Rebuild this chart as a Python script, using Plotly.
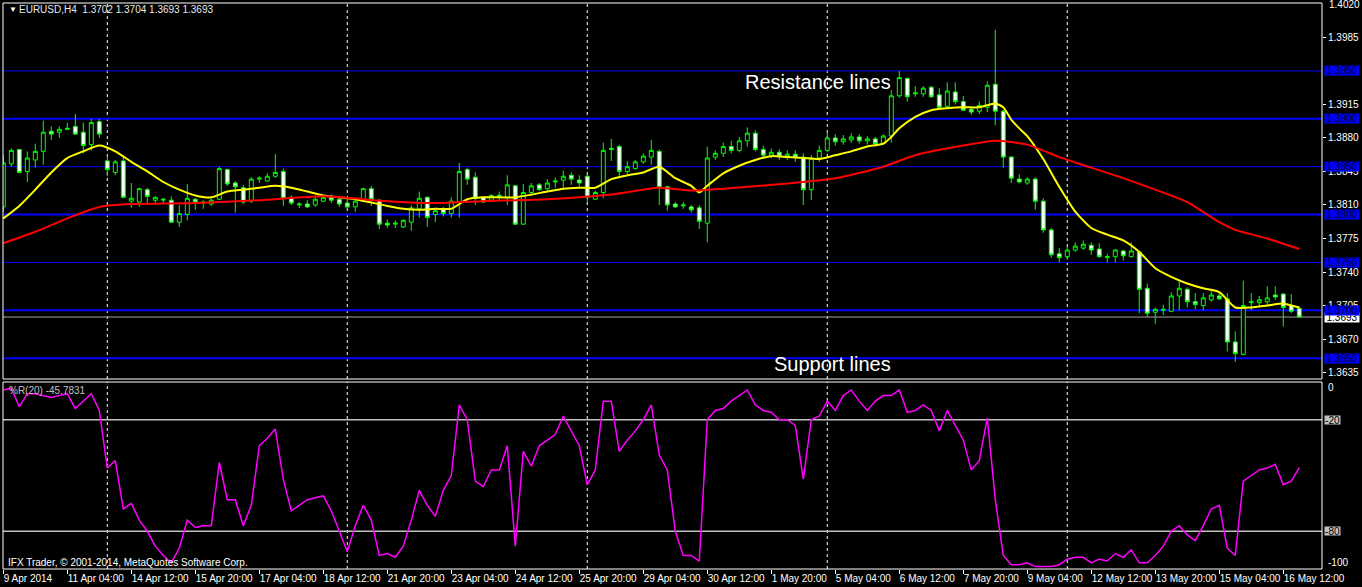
import plotly.graph_objects as go

# ---------------- data ----------------
bars = list(range(163))

opens = [1.3808,1.3853,1.3868,1.3845,1.3857,1.3866,1.3887,1.3886,1.3889,1.3892,1.3886,1.3873,1.3897,1.3856,1.3844,1.3856,1.3814,1.3813,1.3826,1.3815,
1.3815,1.3815,1.3792,1.3800,1.3816,1.3812,1.3811,1.3816,1.3847,1.3833,1.3828,1.3814,1.3837,1.3835,1.3840,1.3845,1.3818,1.3810,1.3811,1.3810,
1.3814,1.3818,1.3816,1.3812,1.3808,1.3814,1.3827,1.3815,1.3791,1.3790,1.3787,1.3792,1.3806,1.3818,1.3800,1.3806,1.3801,1.3813,1.3847,1.3839,
1.3818,1.3815,1.3819,1.3818,1.3830,1.3790,1.3823,1.3831,1.3827,1.3834,1.3836,1.3841,1.3836,1.3840,1.3816,1.3823,1.3868,1.3871,1.3845,1.3848,
1.3855,1.3860,1.3866,1.3829,1.3811,1.3809,1.3808,1.3807,1.3791,1.3860,1.3864,1.3871,1.3867,1.3877,1.3885,1.3868,1.3862,1.3865,1.3861,1.3863,
1.3860,1.3826,1.3859,1.3867,1.3880,1.3876,1.3878,1.3881,1.3877,1.3879,1.3874,1.3882,1.3924,1.3942,1.3926,1.3926,1.3933,1.3925,1.3913,1.3928,
1.3918,1.3910,1.3908,1.3912,1.3936,1.3908,1.3860,1.3837,1.3833,1.3837,1.3814,1.3784,1.3759,1.3756,1.3763,1.3765,1.3768,1.3764,1.3755,1.3756,
1.3762,1.3756,1.3761,1.3723,1.3698,1.3700,1.3699,1.3715,1.3722,1.3709,1.3705,1.3711,1.3715,1.3712,1.3667,1.3654,1.3708,1.3708,1.3709,1.3716,
1.3717,1.3705,1.3702]

highs = [1.3862,1.3869,1.3868,1.3866,1.3874,1.3898,1.3892,1.3892,1.3896,1.3905,1.3896,1.3900,1.3900,1.3860,1.3857,1.3862,1.3833,1.3828,1.3828,1.3819,
1.3817,1.3819,1.3810,1.3832,1.3817,1.3815,1.3817,1.3850,1.3848,1.3835,1.3831,1.3839,1.3840,1.3843,1.3863,1.3848,1.3820,1.3813,1.3815,1.3820,
1.3819,1.3821,1.3818,1.3816,1.3816,1.3828,1.3830,1.3816,1.3795,1.3794,1.3795,1.3810,1.3824,1.3819,1.3807,1.3808,1.3818,1.3854,1.3849,1.3844,
1.3819,1.3821,1.3824,1.3841,1.3831,1.3832,1.3833,1.3833,1.3837,1.3839,1.3846,1.3844,1.3841,1.3843,1.3825,1.3875,1.3879,1.3873,1.3856,1.3857,
1.3864,1.3878,1.3868,1.3830,1.3813,1.3813,1.3810,1.3810,1.3871,1.3867,1.3875,1.3877,1.3881,1.3891,1.3888,1.3872,1.3869,1.3868,1.3867,1.3867,
1.3864,1.3862,1.3872,1.3886,1.3884,1.3883,1.3885,1.3884,1.3882,1.3881,1.3884,1.3930,1.3950,1.3943,1.3934,1.3934,1.3934,1.3932,1.3938,1.3938,
1.3924,1.3912,1.3918,1.3939,1.3993,1.3909,1.3861,1.3842,1.3839,1.3839,1.3817,1.3786,1.3765,1.3767,1.3771,1.3773,1.3771,1.3770,1.3759,1.3764,
1.3763,1.3771,1.3762,1.3728,1.3703,1.3706,1.3719,1.3732,1.3724,1.3718,1.3718,1.3720,1.3719,1.3718,1.3678,1.3731,1.3718,1.3715,1.3725,1.3725,
1.3718,1.3717,1.3704]

lows = [1.3803,1.3850,1.3843,1.3834,1.3849,1.3852,1.3878,1.3880,1.3888,1.3883,1.3864,1.3867,1.3880,1.3840,1.3841,1.3817,1.3807,1.3808,1.3812,1.3812,
1.3811,1.3791,1.3787,1.3794,1.3805,1.3806,1.3809,1.3815,1.3830,1.3802,1.3811,1.3812,1.3833,1.3834,1.3838,1.3809,1.3810,1.3807,1.3807,1.3808,
1.3813,1.3812,1.3808,1.3806,1.3803,1.3813,1.3809,1.3785,1.3786,1.3786,1.3786,1.3783,1.3797,1.3787,1.3792,1.3798,1.3797,1.3797,1.3831,1.3810,
1.3812,1.3813,1.3815,1.3810,1.3789,1.3789,1.3820,1.3825,1.3825,1.3828,1.3828,1.3831,1.3829,1.3812,1.3815,1.3817,1.3856,1.3838,1.3842,1.3847,
1.3853,1.3852,1.3810,1.3804,1.3807,1.3806,1.3802,1.3785,1.3771,1.3857,1.3860,1.3864,1.3865,1.3871,1.3866,1.3859,1.3859,1.3857,1.3857,1.3855,
1.3810,1.3815,1.3855,1.3865,1.3872,1.3873,1.3875,1.3874,1.3873,1.3871,1.3873,1.3875,1.3922,1.3918,1.3923,1.3923,1.3922,1.3911,1.3911,1.3915,
1.3908,1.3904,1.3905,1.3907,1.3893,1.3849,1.3833,1.3833,1.3831,1.3805,1.3781,1.3755,1.3750,1.3753,1.3761,1.3763,1.3758,1.3755,1.3750,1.3750,
1.3752,1.3755,1.3697,1.3693,1.3686,1.3695,1.3698,1.3700,1.3703,1.3701,1.3700,1.3709,1.3711,1.3657,1.3646,1.3653,1.3700,1.3703,1.3706,1.3711,
1.3683,1.3697,1.3693]

closes = [1.3854,1.3867,1.3844,1.3859,1.3866,1.3886,1.3884,1.3889,1.3890,1.3884,1.3872,1.3896,1.3884,1.3847,1.3855,1.3818,1.3817,1.3827,1.3819,1.3818,
1.3816,1.3792,1.3801,1.3817,1.3813,1.3813,1.3815,1.3848,1.3832,1.3829,1.3813,1.3837,1.3838,1.3840,1.3844,1.3817,1.3812,1.3811,1.3808,1.3816,
1.3818,1.3815,1.3811,1.3808,1.3814,1.3827,1.3816,1.3790,1.3789,1.3791,1.3794,1.3807,1.3817,1.3797,1.3804,1.3801,1.3814,1.3845,1.3837,1.3817,
1.3813,1.3820,1.3820,1.3831,1.3790,1.3823,1.3830,1.3826,1.3833,1.3835,1.3840,1.3837,1.3833,1.3818,1.3823,1.3867,1.3869,1.3845,1.3850,1.3855,
1.3861,1.3867,1.3828,1.3810,1.3808,1.3810,1.3805,1.3793,1.3859,1.3864,1.3871,1.3867,1.3877,1.3885,1.3868,1.3862,1.3865,1.3861,1.3863,1.3860,
1.3826,1.3859,1.3867,1.3880,1.3876,1.3879,1.3881,1.3877,1.3879,1.3874,1.3882,1.3924,1.3943,1.3923,1.3927,1.3932,1.3923,1.3912,1.3929,1.3918,
1.3909,1.3907,1.3914,1.3935,1.3908,1.3860,1.3838,1.3834,1.3837,1.3814,1.3784,1.3758,1.3755,1.3763,1.3767,1.3769,1.3763,1.3756,1.3756,1.3763,
1.3757,1.3762,1.3722,1.3697,1.3701,1.3701,1.3715,1.3723,1.3709,1.3706,1.3713,1.3716,1.3712,1.3667,1.3655,1.3705,1.3709,1.3711,1.3713,1.3714,
1.3703,1.3699,1.3693]

# moving averages (read at selected bars)
ma_fast_bars = [0,2,4,6,8,10,12,14,16,18,20,22,24,26,28,30,32,34,36,38,40,44,48,50,52,54,56,57,58,60,64,68,70,72,74,76,78,80,82,84,86,87,88,90,92,94,96,
                98,100,102,104,106,108,110,111,112,114,116,118,120,122,124,125,126,127,128,130,132,134,136,138,140,142,144,146,148,150,152,154,156,158,160,162]
ma_fast = [1.3796,1.3809,1.3826,1.3844,1.3859,1.3866,1.3872,1.3866,1.3855,1.3845,1.3834,1.3826,1.3820,1.3818,1.3824,1.3826,1.3828,1.3830,1.3828,1.3824,
1.3820,1.3816,1.3809,1.3806,1.3805,1.3806,1.3806,1.3811,1.3816,1.3818,1.3818,1.3824,1.3827,1.3828,1.3828,1.3837,1.3841,1.3844,1.3850,1.3838,1.3830,
1.3823,1.3830,1.3843,1.3851,1.3857,1.3861,1.3860,1.3859,1.3858,1.3862,1.3866,1.3871,1.3874,1.3881,1.3890,1.3902,1.3909,1.3911,1.3912,1.3912,1.3916,
1.3912,1.3899,1.3890,1.3882,1.3858,1.3829,1.3803,1.3786,1.3779,1.3773,1.3761,1.3744,1.3735,1.3728,1.3723,1.3719,1.3703,1.3703,1.3705,1.3707,1.3703]
ma_slow_bars = [0,4,8,12,16,24,32,40,48,54,60,68,76,82,86,90,96,104,110,114,120,124,128,132,136,140,144,148,152,154,158,162]
ma_slow = [1.3770,1.3782,1.3796,1.3808,1.3811,1.3812,1.3815,1.3819,1.3814,1.3812,1.3814,1.3816,1.3821,1.3828,1.3825,1.3827,1.3831,1.3838,1.3850,1.3862,
1.3872,1.3877,1.3873,1.3860,1.3849,1.3838,1.3826,1.3813,1.3792,1.3784,1.3775,1.3764]

wpr = [-4,-3,-13,-6,-6,-7,-8,-7,-6,-14,-10,-6,-15,-46,-42,-68,-65,-74,-80,-88,
-93,-97,-89,-74,-78,-77,-77,-43,-63,-63,-77,-66,-34,-30,-25,-52,-69,-66,-63,-62,
-61,-69,-80,-91,-77,-66,-74,-93,-92,-94,-88,-74,-58,-66,-72,-58,-50,-12,-20,-53,
-56,-47,-47,-34,-88,-37,-45,-34,-31,-28,-18,-26,-34,-55,-47,-10,-10,-37,-31,-26,
-20,-12,-39,-47,-80,-93,-93,-96,-20,-15,-14,-10,-7,-4,-12,-15,-16,-20,-20,-23,
-52,-20,-18,-10,-15,-7,-4,-10,-15,-10,-7,-7,-4,-16,-15,-12,-15,-26,-15,-23,
-31,-47,-42,-19,-63,-93,-98,-98,-97,-99,-99,-99,-98,-95,-94,-94,-97,-95,-96,-92,
-94,-90,-97,-97,-93,-88,-80,-77,-82,-85,-77,-68,-66,-89,-93,-53,-50,-47,-46,-44,
-55,-53,-45.7831]

tick_bars = list(range(0, 161, 8))
tick_labels = ["9 Apr 2014","11 Apr 04:00","14 Apr 12:00","15 Apr 20:00","17 Apr 04:00","18 Apr 12:00",
               "21 Apr 20:00","23 Apr 04:00","24 Apr 12:00","25 Apr 20:00","29 Apr 04:00","30 Apr 12:00",
               "1 May 20:00","5 May 04:00","6 May 12:00","7 May 20:00","9 May 04:00","12 May 12:00",
               "13 May 20:00","15 May 04:00","16 May 12:00"]
price_ticks = [1.4020,1.3985,1.3915,1.3880,1.3845,1.3810,1.3775,1.3740,1.3705,1.3670,1.3635]
level_prices = [1.3950,1.3900,1.3850,1.3800,1.3750,1.3700,1.3650]
level_widths = [1,2,1,2,1,2,2]
separator_bars = [13,43,73,103,133]
bid_price = 1.3693
wpr_levels = [-20,-80]

for arr in (opens, highs, lows, closes, wpr):
    assert len(arr) == len(bars)
assert len(ma_fast) == len(ma_fast_bars) and len(ma_slow) == len(ma_slow_bars)

# ---------------- figure ----------------
W, H = 1362, 587
L, R, T, B = 3, 40, 3, 18
def px(x):  # pixel x -> paper
    return (x - L) / (W - L - R)
def py(y):  # pixel y -> paper
    return (H - B - y) / (H - T - B)

FONT = "Liberation Sans, Arial, sans-serif"
main_dom = [py(379), 1.0]
sub_dom = [0.0, py(382)]
Y_RANGE = [1.36283, 1.40209]

fig = go.Figure()
fig.add_trace(go.Candlestick(
    x=bars, open=opens, high=highs, low=lows, close=closes,
    increasing=dict(line=dict(color="#00ff00", width=1), fillcolor="#000000"),
    decreasing=dict(line=dict(color="#00ff00", width=1), fillcolor="#ffffff"),
    whiskerwidth=0, showlegend=False, xaxis="x", yaxis="y"))
fig.add_trace(go.Scatter(x=ma_fast_bars, y=ma_fast, mode="lines", line_shape="spline",
                         line=dict(color="#ffff00", width=2, smoothing=0.6), showlegend=False, yaxis="y"))
fig.add_trace(go.Scatter(x=ma_slow_bars, y=ma_slow, mode="lines", line_shape="spline",
                         line=dict(color="#ff0000", width=2, smoothing=0.6), showlegend=False, yaxis="y"))
fig.add_trace(go.Scatter(x=bars, y=wpr, mode="lines",
                         line=dict(color="#ff00ff", width=1.5), showlegend=False, yaxis="y2"))

shapes = []
for b in separator_bars:
    for yr in ("y domain", "y2 domain"):
        shapes.append(dict(type="line", xref="x", yref=yr, x0=b, x1=b, y0=0, y1=1,
                           line=dict(color="#ffffff", width=1, dash="3px,3px"), layer="below"))
for p, w in zip(level_prices, level_widths):
    shapes.append(dict(type="line", xref="paper", yref="y", x0=0, x1=1, y0=p, y1=p,
                       line=dict(color="#0000ff", width=w), layer="below"))
shapes.append(dict(type="line", xref="paper", yref="y", x0=0, x1=1, y0=bid_price, y1=bid_price,
                   line=dict(color="#a0a0a0", width=1), layer="below"))
for v in wpr_levels:
    shapes.append(dict(type="line", xref="paper", yref="y2", x0=0, x1=1, y0=v, y1=v,
                       line=dict(color="#c0c0c0", width=1.5), layer="below"))
for d in (main_dom, sub_dom):
    shapes.append(dict(type="rect", xref="paper", yref="paper", x0=0, x1=1, y0=d[0], y1=d[1],
                       line=dict(color="#ffffff", width=1), fillcolor="rgba(0,0,0,0)", layer="above"))

ann = []
def text(x, y, s, color="#ffffff", size=10, xanchor="left", **kw):
    ann.append(dict(x=px(x), y=py(y), xref="paper", yref="paper", text=s, showarrow=False,
                    xanchor=xanchor, yanchor="middle", font=dict(family=FONT, size=size, color=color), **kw))

text(7, 10, "\u25bc", size=8)
text(17, 10, "EURUSD,H4  1.3702 1.3704 1.3693 1.3693", color="#e8e8e8", size=10)
text(7, 390, "%R(20) -45.7831", color="#c0c0c0", size=10)
text(6, 562, "IFX Trader, \u00a9 2001-2014, MetaQuotes Software Corp.", color="#ffffff", size=10)
text(818, 82, "Resistance lines", size=20, xanchor="center")
text(832, 364, "Support lines", size=20, xanchor="center")

# top price label (sits at the top edge of the panel)
ann.append(dict(x=px(1327), y=price_ticks[0], xref="paper", yref="y", text=f"{price_ticks[0]:.4f}",
                showarrow=False, xanchor="left", yanchor="middle", yshift=-1,
                font=dict(family=FONT, size=10, color="#ffffff")))
for p in [bid_price]:
    ann.append(dict(x=px(1324), y=p, xref="paper", yref="y", text=f"{p:.4f}", showarrow=False,
                    xanchor="left", yanchor="middle", bgcolor="#ffffff", width=34, height=9, borderpad=0,
                    font=dict(family=FONT, size=10, color="#000000")))
for p in level_prices:
    ann.append(dict(x=px(1324), y=p, xref="paper", yref="y", text=f"{p:.4f}", showarrow=False,
                    xanchor="left", yanchor="middle", bgcolor="#0000ff", width=34, height=9, borderpad=0,
                    font=dict(family=FONT, size=10, color="#000020")))
for v in wpr_levels:
    ann.append(dict(x=px(1324), y=v, xref="paper", yref="y2", text=str(v), showarrow=False,
                    xanchor="left", yanchor="middle", bgcolor="#c0c0c0", width=15, height=8, borderpad=0,
                    font=dict(family=FONT, size=10, color="#000000")))
text(1326, 388, "0", color="#ffffff", size=10)
text(1326, 562, "-100", color="#ffffff", size=10)

fig.update_layout(
    width=W, height=H, margin=dict(l=L, r=R, t=T, b=B, autoexpand=False),
    paper_bgcolor="#000000", plot_bgcolor="#000000",
    font=dict(family=FONT, size=10, color="#ffffff"),
    showlegend=False, boxgap=0.3, hovermode=False,
    xaxis=dict(domain=[0, 1], anchor="y2", range=[-0.0375, 164.84],
               tickmode="array", tickvals=tick_bars, ticktext=tick_labels, tickangle=0,
               ticks="outside", ticklen=4, tickcolor="#ffffff",
               ticklabelposition="outside right", automargin=False,
               tickfont=dict(family=FONT, size=10, color="#ffffff"),
               showgrid=False, zeroline=False, showline=False,
               rangeslider=dict(visible=False), fixedrange=True),
    yaxis=dict(domain=main_dom, range=Y_RANGE, side="right",
               tickmode="array", tickvals=price_ticks[1:], ticktext=[f"{p:.4f}" for p in price_ticks[1:]],
               ticks="outside", ticklen=3, tickcolor="#ffffff", automargin=False,
               tickfont=dict(family=FONT, size=10, color="#ffffff"),
               showgrid=False, zeroline=False, showline=False, anchor="x"),
    yaxis2=dict(domain=sub_dom, range=[-100.3, 0.3], side="right", automargin=False,
                tickmode="array", tickvals=[], showticklabels=False,
                showgrid=False, zeroline=False, showline=False, anchor="x"),
    shapes=shapes, annotations=ann,
)

fig.write_html("out.html", config={"displayModeBar": False},
               post_script="document.body.style.margin='0px';document.body.style.overflow='hidden';")
